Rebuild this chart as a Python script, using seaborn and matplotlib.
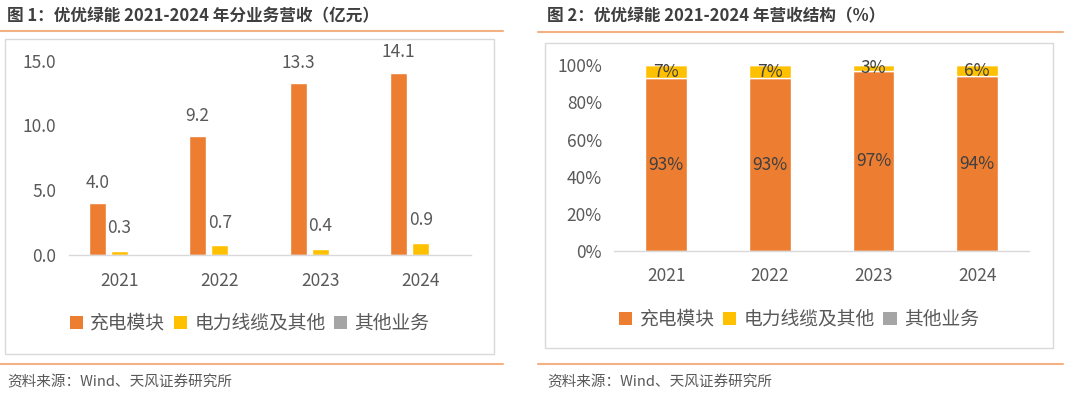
import matplotlib
matplotlib.use("Agg")
import matplotlib.pyplot as plt
import numpy as np
import pandas as pd
import seaborn as sns
from matplotlib.lines import Line2D
from matplotlib.patches import Patch, Rectangle

# --- data ---
years = ["2021", "2022", "2023", "2024"]
segments = ["充电模块", "电力线缆及其他", "其他业务"]

# revenue by segment, 亿元
rev_module = [4.0, 9.2, 13.3, 14.1]
rev_cable = [0.3, 0.7, 0.4, 0.9]
rev_other = [0.0, 0.0, 0.0, 0.0]

# revenue structure, %
share_module = [93, 93, 97, 94]
share_cable = [7, 7, 3, 6]
share_other = [0, 0, 0, 0]

title_left = "图 1：优优绿能 2021-2024 年分业务营收（亿元）"
title_right = "图 2：优优绿能 2021-2024 年营收结构（%）"
source_text = "资料来源：Wind、天风证券研究所"

palette = {"充电模块": "#ED7D31", "电力线缆及其他": "#FFC000", "其他业务": "#A5A5A5"}

sns.set_theme(style="white")
plt.rcParams["font.family"] = ["Noto Sans CJK SC", "DejaVu Sans"]

W, H = 1080, 398
TICK = "#595959"
LINE = "#F4B183"
BOX = "#D9D9D9"


def px(x, y):
    # pixel coords (top-left origin) -> figure fraction
    return x / W, 1 - y / H


def tidy(ax, xpad):
    for side in ["top", "right", "left"]:
        ax.spines[side].set_visible(False)
    ax.spines["bottom"].set_color(BOX)
    ax.spines["bottom"].set_linewidth(1)
    ax.set_facecolor("none")
    ax.set_xlabel("")
    ax.set_ylabel("")
    ax.tick_params(axis="y", length=0, pad=9, labelsize=12.5, labelcolor=TICK)
    ax.tick_params(axis="x", length=0, pad=xpad, labelsize=12.5, labelcolor=TICK)


fig = plt.figure(figsize=(W / 100, H / 100), dpi=100)

# --- left: revenue by segment ---
df_rev = pd.DataFrame({
    "year": years * 3,
    "segment": np.repeat(segments, len(years)),
    "value": rev_module + rev_cable + rev_other,
})

x0, y0 = px(69, 254.5)
ax1 = fig.add_axes([x0, y0, 402 / W, 209.5 / H])
sns.barplot(data=df_rev, x="year", y="value", hue="segment", hue_order=segments,
            palette=palette, saturation=1, width=0.66, gap=0.22,
            errorbar=None, legend=False, ax=ax1)
ax1.set_ylim(0, 16.24)
ax1.set_yticks([0, 5, 10, 15])
ax1.set_yticklabels([f"{t:.1f}" for t in [0, 5, 10, 15]])
tidy(ax1, 12.5)
ax1.bar_label(ax1.containers[0], fmt="%.1f", padding=8, fontsize=12.5, color=TICK)
ax1.bar_label(ax1.containers[1], fmt="%.1f", padding=10, fontsize=12.5, color=TICK)

# --- right: revenue structure (stacked) ---
df_share = pd.DataFrame({
    "year": years,
    "module": share_module,
    "cable": share_cable,
    "other": share_other,
})

x0, y0 = px(614.3, 250.7)
ax2 = fig.add_axes([x0, y0, 414.7 / W, 195.7 / H])
sns.barplot(data=df_share, x="year", y="module", color=palette["充电模块"],
            saturation=1, width=0.4, errorbar=None, ax=ax2)
sns.barplot(data=df_share, x="year", y="cable", bottom=df_share["module"],
            color=palette["电力线缆及其他"], saturation=1, width=0.4,
            errorbar=None, ax=ax2)
sns.barplot(data=df_share, x="year", y="other",
            bottom=df_share["module"] + df_share["cable"],
            color=palette["其他业务"], saturation=1, width=0.4,
            errorbar=None, ax=ax2)
ax2.set_ylim(0, 105.6)
ax2.set_yticks([0, 20, 40, 60, 80, 100])
ax2.set_yticklabels([f"{t}%" for t in [0, 20, 40, 60, 80, 100]])
tidy(ax2, 12)
ax2.bar_label(ax2.containers[0], labels=[f"{v}%" for v in share_module],
              label_type="center", fontsize=12.5, color="#404040")
ax2.bar_label(ax2.containers[1], labels=[f"{v}%" for v in share_cable],
              label_type="center", fontsize=12.5, color="#404040")

# --- legends ---
handles = [Patch(facecolor=palette[s], edgecolor="none", label=s) for s in segments]
for cx, cy in [(249.5, 323.3), (799, 319.3)]:
    fig.legend(handles=handles, loc="center", bbox_to_anchor=px(cx, cy), ncol=3,
               frameon=False, fontsize=13.5, labelcolor=TICK, handlelength=0.7,
               handleheight=0.7, handletextpad=0.4, columnspacing=0.45,
               borderpad=0, borderaxespad=0)

# --- frames, rules, titles, source ---
for (bx0, by0, bx1, by1) in [(5, 39, 494, 354.3), (545, 42.7, 1053, 348.3)]:
    fig.add_artist(Rectangle(px(bx0, by1), (bx1 - bx0) / W, (by1 - by0) / H,
                             transform=fig.transFigure, fill=False,
                             edgecolor=BOX, lw=1))

for (lx0, lx1, ly) in [(0, 503, 30.5), (538, 1063, 31.5), (0, 503, 364), (538, 1063, 363.5)]:
    fig.add_artist(Line2D([lx0 / W, lx1 / W], [1 - ly / H] * 2,
                          transform=fig.transFigure, color=LINE, lw=1.5))

fig.text(*px(7, 16.5), title_left, fontsize=12, fontweight="bold",
         color="#3F3F3F", va="center")
fig.text(*px(547, 16.5), title_right, fontsize=12, fontweight="bold",
         color="#3F3F3F", va="center")
fig.text(*px(7, 382), source_text, fontsize=10.5, color=TICK, va="center")
fig.text(*px(547, 382), source_text, fontsize=10.5, color=TICK, va="center")

fig.savefig("out.png", dpi=100)
